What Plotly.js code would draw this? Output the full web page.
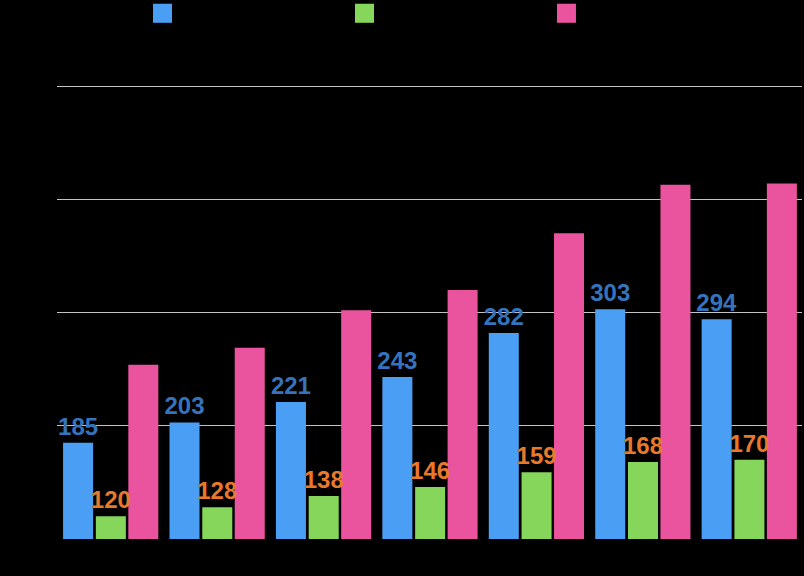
<!DOCTYPE html>
<html>
<head>
<meta charset="utf-8">
<script src="https://cdn.plot.ly/plotly-3.0.1.min.js"></script>
<style>
  html, body { margin: 0; padding: 0; background: #000; }
  #chart { width: 804px; height: 576px; }
</style>
</head>
<body>
<div id="chart"></div>
<script>
// Data
const categories = ['1', '2', '3', '4', '5', '6', '7'];
const seriesNames = ['系列1', '系列2', '系列3'];
const blueValues = [185, 203, 221, 243, 282, 303, 294];
const greenValues = [120, 128, 138, 146, 159, 168, 170];
const pinkValues = [254, 269, 302, 320, 370, 413, 414];
const gridTicks = [200, 300, 400, 500];

const barColors = ['#4a9ff5', '#85d65a', '#ea539e'];
const labelColors = ['#3574bd', '#e8792a', '#000000'];
const labelFont = 'Liberation Sans, Arial, Helvetica, sans-serif';
const barOffsets = [-0.443, -0.135, 0.170];
const barWidth = 0.282;

function barTrace(name, values, idx, showLabels) {
  return {
    type: 'bar',
    name: name,
    x: categories,
    y: values,
    base: 0,
    offset: barOffsets[idx],
    width: barWidth,
    marker: { color: barColors[idx], line: { width: 0 } },
    text: showLabels ? values.map(String) : undefined,
    textposition: showLabels ? 'outside' : 'none',
    constraintext: 'none',
    cliponaxis: false,
    textfont: { family: labelFont, size: 24, weight: 'bold', color: labelColors[idx] },
    hoverinfo: 'skip'
  };
}

// pink drawn first so the value labels of the other series sit on top of it
const data = [
  barTrace(seriesNames[2], pinkValues, 2, false),
  barTrace(seriesNames[0], blueValues, 0, true),
  barTrace(seriesNames[1], greenValues, 1, true)
];

// legend squares (drawn as shapes to match the reference's large swatches)
const legendX = [0.1289, 0.4000, 0.6711];
const shapes = legendX.map((x0, i) => ({
  type: 'rect', xref: 'paper', yref: 'paper',
  x0: x0, x1: x0 + 0.0255, y0: 1.137, y1: 1.179,
  fillcolor: barColors[i], line: { width: 0 }
}));

const layout = {
  width: 804,
  height: 576,
  paper_bgcolor: '#000000',
  plot_bgcolor: '#000000',
  margin: { l: 57, r: 2, t: 85, b: 37, pad: 0 },
  barmode: 'overlay',
  showlegend: false,
  font: { family: labelFont, color: '#000000' },
  xaxis: {
    type: 'category',
    range: [-0.5, 6.5],
    showgrid: false,
    zeroline: false,
    showline: false,
    showticklabels: false,
    ticks: ''
  },
  yaxis: {
    range: [100, 501],
    tickvals: gridTicks,
    showgrid: true,
    gridcolor: '#c4c4c4',
    gridwidth: 1,
    zeroline: false,
    showline: false,
    showticklabels: false,
    ticks: ''
  },
  shapes: shapes
};

Plotly.newPlot('chart', data, layout, { displayModeBar: false, staticPlot: true });
</script>
</body>
</html>
